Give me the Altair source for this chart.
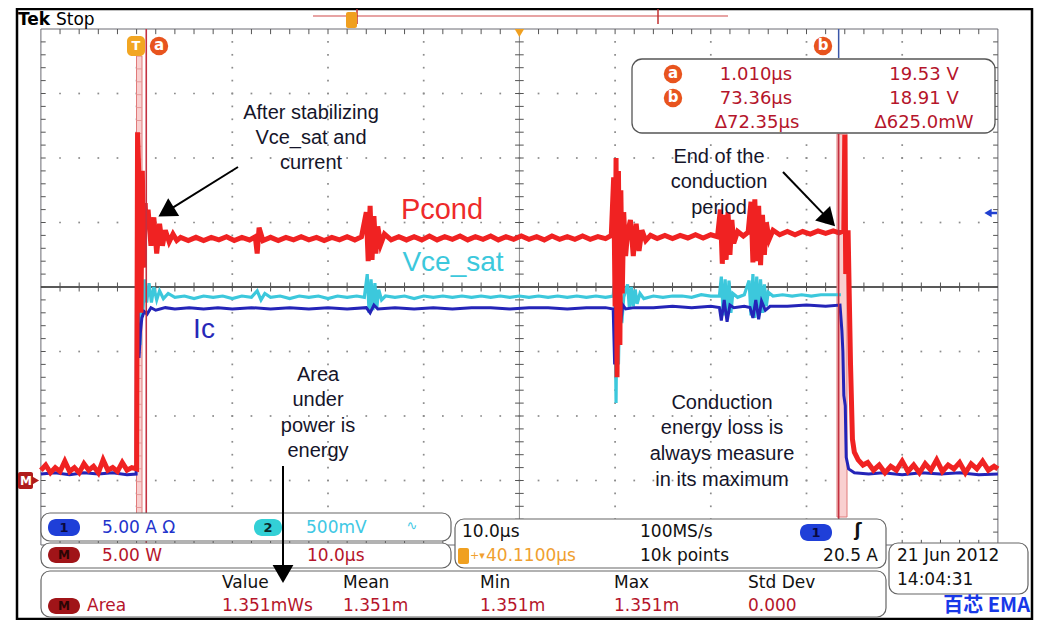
import math
import altair as alt
import pandas as pd

# ---------------- values ----------------
# time in µs relative to the trigger (T), Pcond in W (math M, 5 W/div)
pcond_t = [-10.0, -9.5, -9.0, -8.5, -8.0, -7.5, -7.0, -6.5, -6.0, -5.5, -5.0, -4.5, -4.0, -3.5, -3.0, -2.5, -2.0, -1.5, -1.0, -0.5, 0.0,
           0.1, 0.3, 0.45, 0.6, 0.75, 0.9, 1.0, 1.2, 1.5, 1.8, 2.1, 2.4, 2.7, 3.0, 3.4, 3.8, 4.2,
           4.6, 5.4, 6.2, 7.0, 7.8, 8.6, 9.4, 10.2, 11.0, 11.8, 12.4, 12.6, 12.8, 13.2, 14.0, 14.8, 15.6, 16.4, 17.2, 18.0, 18.8, 19.6, 20.4, 21.2, 22.0, 22.8, 23.5,
           24.0, 24.2, 24.4, 24.6, 24.8, 25.0, 25.2, 25.5, 25.9,
           26.6, 27.4, 28.2, 29.0, 29.8, 30.6, 31.4, 32.2, 33.0, 33.8, 34.6, 35.4, 36.2, 37.0, 37.8, 38.6, 39.4, 40.2, 41.0, 41.8, 42.6, 43.4, 44.2, 45.0, 45.8, 46.6, 47.4, 48.2, 49.0, 49.6,
           49.85, 50.0, 50.1, 50.2, 50.35, 50.5, 50.6, 50.75, 50.9, 51.1, 51.3,
           51.6, 51.9, 52.2, 52.5, 52.8, 53.2, 53.7,
           54.4, 55.2, 56.0, 56.8, 57.6, 58.4, 59.2, 60.0, 60.7,
           61.0, 61.2, 61.4, 61.6, 61.8, 62.0, 62.2, 62.4, 62.8, 63.4, 63.9,
           64.2, 64.4, 64.6, 64.8, 65.0, 65.2, 65.4, 65.6, 65.8, 66.1, 66.5,
           67.2, 68.0, 68.8, 69.6, 70.4, 71.2, 72.0, 72.8, 73.4, 73.9,
           74.0, 74.1, 74.2, 74.35, 74.45, 74.6, 74.8, 75.0, 75.4, 75.9, 76.4,
           77.0, 77.6, 78.2, 78.8, 79.4, 80.0, 80.6, 81.2, 81.8, 82.4, 83.0, 83.6, 84.2, 84.8, 85.4, 86.0, 86.6, 87.2, 87.8, 88.4, 89.0, 89.6, 90.0]
pcond_w = [0.8, 1.2, 0.6, 1.0, 0.7, 1.5, 0.7, 1.0, 0.6, 1.3, 0.8, 1.1, 0.6, 1.6, 0.8, 1.0, 0.7, 1.4, 0.8, 1.0, 0.9,
           27.0, 22.0, 13.0, 24.0, 16.5, 21.5, 19.5, 21.0, 18.2, 20.4, 17.6, 19.9, 18.2, 19.4, 18.5, 19.1, 18.6,
           18.85, 18.6, 18.85, 18.6, 18.85, 18.65, 18.9, 18.6, 18.85, 18.65, 18.9, 17.6, 19.6, 18.6, 18.85, 18.6, 18.85, 18.65, 18.9, 18.65, 18.85, 18.6, 18.85, 18.65, 18.9, 18.65, 18.9,
           20.8, 17.0, 21.3, 17.1, 20.5, 17.6, 19.7, 18.3, 19.1,
           18.65, 18.9, 18.65, 18.9, 18.65, 18.95, 18.65, 18.9, 18.7, 18.95, 18.65, 18.9, 18.7, 18.95, 18.65, 18.9, 18.7, 18.95, 18.7, 18.9, 18.65, 18.95, 18.7, 18.9, 18.7, 18.95, 18.7, 18.9, 18.75, 19.0,
           23.5, 13.5, 25.0, 8.0, 24.0, 10.5, 22.5, 14.5, 20.8, 17.4, 19.2,
           20.2, 17.4, 19.9, 17.8, 19.4, 18.6, 19.0,
           18.75, 19.0, 18.75, 19.0, 18.8, 19.05, 18.8, 19.05, 18.9,
           21.0, 16.8, 20.6, 17.1, 20.8, 17.5, 20.2, 18.4, 19.3, 18.95, 19.25,
           21.6, 16.9, 21.8, 17.0, 21.3, 16.7, 20.6, 17.5, 20.0, 18.7, 19.4,
           19.05, 19.3, 19.05, 19.3, 19.1, 19.35, 19.15, 19.35, 19.2, 19.35,
           26.8, 16.0, 19.2, 19.2, 15.0, 9.0, 3.2, 2.2, 1.6, 1.2, 1.4,
           0.8, 1.2, 0.6, 1.1, 0.8, 1.5, 0.7, 1.2, 0.6, 1.3, 0.8, 1.6, 0.7, 1.2, 0.9, 1.4, 0.6, 1.3, 0.9, 1.5, 0.8, 1.1, 0.9]

# Ic in A (channel 1, 5 A/div)
ic_t = [-10.0, -8.5, -7.0, -5.5, -4.0, -2.5, -1.0, -0.05,
        0.0, 0.12, 0.25, 0.4, 0.55, 0.8, 1.1, 1.5, 2.0, 3.0, 4.0, 5.5, 7.0, 8.5, 10.0, 12.0, 14.0, 16.0, 18.0, 20.0, 22.0, 24.0, 24.4, 24.8, 25.2,
        27.0, 29.0, 31.0, 33.0, 35.0, 37.0, 39.0, 41.0, 43.0, 45.0, 47.0, 49.0, 49.8,
        49.95, 50.1, 50.25, 50.4, 50.6, 50.8, 51.1, 52.0, 54.0, 56.0, 58.0, 60.0, 60.9,
        61.1, 61.4, 61.7, 62.0, 62.4, 63.5, 64.1, 64.4, 64.7, 65.0, 65.3, 65.7, 66.2, 68.0, 70.0, 72.0, 73.5,
        73.7, 73.8, 73.9, 74.05, 74.15, 74.4, 75.0, 76.5, 78.0, 80.0, 82.0, 84.0, 86.0, 88.0, 90.0]
ic_a = [0.5, 0.6, 0.45, 0.6, 0.5, 0.6, 0.45, 0.5,
        20.0, 14.0, 9.5, 11.5, 12.6, 13.1, 12.9, 13.4, 13.2, 13.4, 13.3, 13.4, 13.3, 13.4, 13.3, 13.4, 13.3, 13.4, 13.3, 13.4, 13.3, 13.4, 13.0, 13.6, 13.3,
        13.4, 13.3, 13.4, 13.3, 13.4, 13.4, 13.3, 13.4, 13.4, 13.3, 13.4, 13.4, 13.3,
        9.0, 15.6, 10.2, 14.3, 12.3, 13.6, 13.3, 13.4, 13.4, 13.5, 13.4, 13.5, 13.4,
        12.4, 14.0, 12.3, 13.6, 13.4, 13.5, 13.4, 12.6, 14.0, 12.5, 13.9, 13.2, 13.5, 13.5, 13.6, 13.5, 13.6,
        11.6, 10.0, 6.6, 5.8, 1.8, 0.9, 0.6, 0.5, 0.6, 0.45, 0.6, 0.5, 0.6, 0.45, 0.5]

# Vce_sat in V (channel 2, 500 mV/div)
vce_t = [0.2, 0.35, 0.5, 0.65, 0.85, 1.05, 1.3, 1.55, 1.8, 2.1, 2.4, 2.8, 3.3, 4.0, 5.0, 6.0, 7.0, 8.0, 9.0, 10.0, 11.0, 12.0, 12.6, 13.0, 13.4,
         14.0, 15.0, 16.0, 17.0, 18.0, 19.0, 20.0, 21.0, 22.0, 23.0, 23.8,
         24.1, 24.3, 24.5, 24.7, 24.9, 25.1, 25.3, 25.6, 26.0, 27.0, 28.0, 29.0, 30.0, 31.0, 32.0, 33.0, 34.0, 35.0, 36.0, 37.0, 38.0, 39.0,
         40.0, 41.0, 42.0, 43.0, 44.0, 45.0, 46.0, 47.0, 48.0, 49.0, 49.8,
         49.95, 50.1, 50.2, 50.35, 50.5, 50.7, 50.9, 51.3, 51.5, 51.7, 51.9, 52.1, 52.3, 52.6, 53.0, 54.0, 55.0, 56.0, 57.0, 58.0, 59.0, 60.0, 60.9,
         61.1, 61.3, 61.5, 61.7, 61.9, 62.1, 62.3, 62.8, 63.5, 64.0, 64.2, 64.4, 64.6, 64.8, 65.0, 65.2, 65.4, 65.6, 65.8, 66.0, 66.5,
         67.5, 68.5, 69.5, 70.5, 71.5, 72.5, 73.6]
vce_v = [1.50, 1.05, 1.55, 1.30, 1.56, 1.38, 1.53, 1.38, 1.50, 1.40, 1.47, 1.41, 1.45, 1.42, 1.43, 1.41, 1.43, 1.42, 1.43, 1.41, 1.43, 1.42, 1.47, 1.40, 1.45,
         1.42, 1.43, 1.41, 1.43, 1.42, 1.43, 1.41, 1.43, 1.42, 1.43, 1.42,
         1.60, 1.30, 1.56, 1.32, 1.53, 1.34, 1.48, 1.40, 1.43, 1.42, 1.43, 1.41, 1.43, 1.42, 1.43, 1.42, 1.43, 1.42, 1.43, 1.42, 1.43, 1.42,
         1.43, 1.42, 1.43, 1.42, 1.43, 1.42, 1.43, 1.42, 1.43, 1.42, 1.43,
         1.56, 0.60, 1.50, 0.90, 1.46, 1.22, 1.42, 1.52, 1.33, 1.50, 1.35, 1.48, 1.37, 1.45, 1.41, 1.43, 1.42, 1.43, 1.43, 1.42, 1.44, 1.43, 1.43,
         1.58, 1.28, 1.56, 1.27, 1.55, 1.30, 1.45, 1.42, 1.44, 1.55, 1.28, 1.60, 1.26, 1.58, 1.28, 1.56, 1.30, 1.52, 1.35, 1.46, 1.43,
         1.44, 1.43, 1.44, 1.43, 1.44, 1.44, 1.44]

cursor_times = ["1.010µs", "73.36µs", "Δ72.35µs"]
cursor_values = ["19.53 V", "18.91 V", "Δ625.0mW"]
cursor_a_us, cursor_b_us = 1.010, 73.36
meas_headers = ["Value", "Mean", "Min", "Max", "Std Dev"]
meas_values = ["1.351mWs", "1.351m", "1.351m", "1.351m", "0.000"]

# channel settings: units per division, ground level in divisions
PCOND_PER_DIV, IC_PER_DIV, VCE_PER_DIV, GND_DIV = 5.0, 5.0, 0.5, -3.0

# ---------------- geometry ----------------
W, H = 1030, 612
PX_T0, PX_PER_US, PY_C, PY_PER_DIV = 136.6, 9.57, 287.0, 64.5


def X(px):
    return (px - PX_T0) / PX_PER_US


def Y(py):
    return (PY_C - py) / PY_PER_DIV


XS = alt.Scale(domain=[X(8), X(8 + W)], nice=False, zero=False)
YS = alt.Scale(domain=[Y(8 + H), Y(8)], nice=False, zero=False)
ENC_X = alt.X("x:Q", scale=XS, axis=None)
ENC_Y = alt.Y("y:Q", scale=YS, axis=None)

layers = []


def rules_d(rows, color, width=1.0, dash=None, opacity=1.0):
    df = pd.DataFrame(rows, columns=["x", "y", "x2", "y2"])
    kw = dict(color=color, strokeWidth=width, opacity=opacity)
    if dash:
        kw["strokeDash"] = dash
    layers.append(alt.Chart(df).mark_rule(**kw).encode(x=ENC_X, y=ENC_Y, x2="x2:Q", y2="y2:Q"))


def rules_p(rows, color, width=1.0, dash=None, opacity=1.0):
    rules_d([(X(a), Y(b), X(c), Y(d)) for a, b, c, d in rows], color, width, dash, opacity)


def rect_p(x1, y1, x2, y2, fill=None, stroke=None, sw=1.0, radius=0, opacity=1.0):
    df = pd.DataFrame({"x": [X(x1)], "y": [Y(y1)], "x2": [X(x2)], "y2": [Y(y2)]})
    kw = dict(cornerRadius=radius, opacity=opacity)
    if fill:
        kw["fill"] = fill
    else:
        kw["fillOpacity"] = 0
    if stroke:
        kw["stroke"] = stroke
        kw["strokeWidth"] = sw
    layers.append(alt.Chart(df).mark_rect(**kw).encode(x=ENC_X, y=ENC_Y, x2="x2:Q", y2="y2:Q"))


def text_p(rows, size, color, font="DejaVu Sans", weight="normal", align="left"):
    df = pd.DataFrame([(s, X(a), Y(b)) for s, a, b in rows], columns=["s", "x", "y"])
    layers.append(alt.Chart(df).mark_text(align=align, baseline="middle", font=font, fontSize=size,
                                          fontWeight=weight, color=color)
                  .encode(x=ENC_X, y=ENC_Y, text="s:N"))


def pts_p(rows, shape, size, color, angle=0):
    df = pd.DataFrame([(X(a), Y(b)) for a, b in rows], columns=["x", "y"])
    layers.append(alt.Chart(df).mark_point(shape=shape, filled=True, size=size, color=color,
                                           opacity=1, angle=angle, strokeWidth=0)
                  .encode(x=ENC_X, y=ENC_Y))


def arrow_p(x0, y0, x1, y1, color="#000000", head=430):
    dx, dy = x1 - x0, y1 - y0
    ln = math.hypot(dx, dy)
    ux, uy = dx / ln, dy / ln
    r = math.sqrt(head) / 2
    h = math.sqrt(3) * r / 2
    cx, cy = x1 - ux * h, y1 - uy * h
    rules_p([(x0, y0, cx - ux * h * 0.6, cy - uy * h * 0.6)], color, 2.0)
    ang = math.degrees(math.atan2(dx, -dy)) % 360
    pts_p([(cx, cy)], "triangle", head, color, angle=ang)


# ---------------- graticule (data units: µs, divisions) ----------------
T0, T1, D0, D1 = -10.0, 90.0, -4.0, 4.0
dots = []
for i in range(1, 10):
    if i == 5:
        continue
    t = T0 + 10 * i
    for j in range(1, 40):
        dots.append((t, D0 + 0.2 * j))
for k in range(-3, 4):
    if k == 0:
        continue
    for m in range(1, 50):
        dots.append((T0 + 2 * m, float(k)))
layers.append(alt.Chart(pd.DataFrame(dots, columns=["x", "y"]))
              .mark_square(size=3, color="#8c8c8c", opacity=1).encode(x=ENC_X, y=ENC_Y))

rules_d([(T0, D0, T1, D0), (T0, D1, T1, D1), (T0, D0, T0, D1), (T1, D0, T1, D1)], "#6a6a72", 1.0)
rules_d([(40.0, D0, 40.0, D1)], "#8a8a8a", 1.0)
rules_d([(T0, 0.0, T1, 0.0)], "#222222", 1.3)
tk = []
for m in range(1, 50):
    t = T0 + 2 * m
    tk.append((t, -0.07, t, 0.07))
    tk.append((t, D1, t, D1 - 0.08))
    tk.append((t, D0, t, D0 + 0.08))
for j in range(1, 40):
    d = D0 + 0.2 * j
    tk.append((40 - 0.45, d, 40 + 0.45, d))
    tk.append((T0, d, T0 + 0.5, d))
    tk.append((T1, d, T1 - 0.5, d))
rules_d(tk, "#555555", 1.0)

# ---------------- cursor bands (under the traces) ----------------
rect_p(136.5, 56, 142, 517, fill="#f9d0d0", stroke="#e07a7a", sw=1.0)
rules_p([(136.5, 56 + 12.9 * k, 142, 56 + 12.9 * k) for k in range(1, 36)], "#e59a9a", 1.0)
rect_p(837, 134, 847, 517, fill="#f9d0d0", stroke="#e07a7a", sw=1.0)

# ---------------- traces ----------------
vce_df = pd.DataFrame({"x": vce_t, "y": [GND_DIV + v / VCE_PER_DIV for v in vce_v]})
ic_df = pd.DataFrame({"x": ic_t, "y": [GND_DIV + v / IC_PER_DIV for v in ic_a]})
pc_df = pd.DataFrame({"x": pcond_t, "y": [GND_DIV + v / PCOND_PER_DIV for v in pcond_w]})
layers.append(alt.Chart(vce_df).mark_line(color="#3cc8dc", strokeWidth=3.2).encode(x=ENC_X, y=ENC_Y))
layers.append(alt.Chart(ic_df).mark_line(color="#2424b8", strokeWidth=3.0).encode(x=ENC_X, y=ENC_Y))
layers.append(alt.Chart(pc_df).mark_line(color="#f02222", strokeWidth=5.0).encode(x=ENC_X, y=ENC_Y))

# ---------------- cursor lines ----------------
rules_d([(cursor_a_us, D0 - 0.35, cursor_a_us, D1)], "#c43040", 1.6)
rules_d([(cursor_b_us, D0 - 0.35, cursor_b_us, Y(134))], "#c43040", 1.6)
rules_d([(cursor_b_us, D1, cursor_b_us, Y(58))], "#3a56a8", 1.5)

# ---------------- frame and header ----------------
rect_p(17, 9, 1032, 619, stroke="#000000", sw=2.5)
text_p([("Tek", 18, 20)], 17, "#000000", weight="bold")
text_p([("Stop", 56, 20)], 17, "#000000")
rules_p([(313, 16, 728, 16)], "#d04848", 1.2)
rules_p([(357, 9, 357, 24), (658, 9, 658, 24)], "#c03030", 1.5)
rect_p(346, 12, 357, 28, fill="#f0a020", radius=2)
pts_p([(519.4, 33)], "triangle-down", 90, "#f0a020")

# markers T, a, b
rect_p(127, 36, 145, 56, fill="#f2a622", radius=5)
text_p([("T", 136, 46)], 13, "#ffffff", weight="bold", align="center")
pts_p([(159, 46), (823, 46)], "circle", 340, "#e8541e")
text_p([("a", 159, 45), ("b", 823, 45)], 15, "#ffffff", weight="bold", align="center")

# cursor readout box
rect_p(632, 59, 995, 133, fill="#ffffff", stroke="#555555", sw=1.3, radius=10)
pts_p([(673, 74), (673, 98)], "circle", 340, "#e8541e")
text_p([("a", 673, 73), ("b", 673, 97)], 15, "#ffffff", weight="bold", align="center")
text_p([(cursor_times[0], 756, 75), (cursor_times[1], 756, 99), (cursor_times[2], 757, 123)], 18, "#b5152b", align="center")
text_p([(cursor_values[0], 924, 75), (cursor_values[1], 924, 99), (cursor_values[2], 924, 123)], 18, "#b5152b", align="center")

# side markers
pts_p([(988, 213)], "triangle-left", 70, "#2040d0")
rules_p([(990, 213, 997, 213)], "#2040d0", 2.5)
rect_p(18, 472, 33, 489, fill="#b01c1c", radius=2)
pts_p([(35.5, 480.5)], "triangle-right", 70, "#b01c1c")
text_p([("M", 26, 481)], 12, "#ffffff", weight="bold", align="center")

# ---------------- annotations ----------------
ANN = "#15152a"
text_p([("After stabilizing", 311, 113), ("Vce_sat and", 311, 138), ("current", 311, 163)],
       20, ANN, font="Liberation Sans", align="center")
text_p([("End of the", 719, 157), ("conduction", 719, 182), ("period", 719, 208)],
       20, ANN, font="Liberation Sans", align="center")
text_p([("Area", 318, 375), ("under", 318, 400), ("power is", 318, 426), ("energy", 318, 451)],
       20, ANN, font="Liberation Sans", align="center")
text_p([("Conduction", 722, 403), ("energy loss is", 722, 428), ("always measure", 722, 454), ("in its maximum", 722, 480)],
       20, ANN, font="Liberation Sans", align="center")
text_p([("Pcond", 442, 210)], 29, "#ee2a2a", font="Liberation Sans", align="center")
text_p([("Vce_sat", 453, 263)], 28, "#3cc8dc", font="Liberation Sans", align="center")
text_p([("Ic", 204, 330)], 28, "#2828b8", font="Liberation Sans", align="center")

# ---------------- bottom readouts ----------------
BOX = "#666666"
DR = "#b5152b"
rect_p(41, 513, 451, 541, fill="#ffffff", stroke=BOX, sw=1.2, radius=9)
rect_p(41, 543, 451, 568, fill="#ffffff", stroke=BOX, sw=1.2, radius=9)
rect_p(455, 519, 886, 568, fill="#ffffff", stroke=BOX, sw=1.2, radius=9)
rect_p(41, 571, 886, 617, fill="#ffffff", stroke=BOX, sw=1.2, radius=9)
rect_p(889, 543, 1028, 594, fill="#ffffff", stroke=BOX, sw=1.2, radius=9)

arrow_p(238, 167, 161, 215)
arrow_p(783, 172, 833, 224)
arrow_p(283, 466, 283, 580)

rect_p(48, 519, 80, 536, fill="#1f3fd8", radius=8)
text_p([("1", 64, 528)], 13, "#0a0a40", weight="bold", align="center")
text_p([("5.00 A Ω", 102, 528)], 17, "#2233cc")
rect_p(254, 519, 282, 536, fill="#33d0d6", radius=8)
text_p([("2", 268, 528)], 13, "#0a2a2a", weight="bold", align="center")
text_p([("500mV", 306, 528)], 17, "#40c8e4")
text_p([("∿", 412, 526)], 13, "#40c8e4", align="center")

rect_p(48, 547, 80, 563, fill="#a01418", radius=8)
text_p([("M", 64, 555)], 12, "#2a0505", weight="bold", align="center")
text_p([("5.00 W", 102, 556)], 17, DR)
text_p([("10.0µs", 307, 556)], 17, DR)

text_p([("10.0µs", 462, 532), ("100MS/s", 640, 532)], 17, "#111111")
rect_p(800, 524, 832, 541, fill="#1f3fd8", radius=8)
text_p([("1", 816, 532.5)], 13, "#0a0a40", weight="bold", align="center")
text_p([("ʃ", 858, 531)], 17, "#111111", weight="bold", align="center")
rect_p(458, 548, 469, 564, fill="#f0a020", radius=2)
text_p([("+▾", 470, 556)], 11, "#f0a030")
text_p([("40.1100µs", 486, 556)], 17, "#f0a030")
text_p([("10k points", 640, 556)], 17, "#111111")
text_p([("20.5 A", 878, 556)], 17, "#111111", align="right")

hx = [222, 343, 480, 614, 748]
text_p([(h, x, 583) for h, x in zip(meas_headers, hx)], 17, "#111111")
rect_p(48, 598, 80, 614, fill="#a01418", radius=8)
text_p([("M", 64, 606)], 12, "#2a0505", weight="bold", align="center")
text_p([("Area", 87, 606)], 17, DR)
text_p([(v, x, 606) for v, x in zip(meas_values, hx)], 17, DR)

text_p([("21 Jun 2012", 897, 556), ("14:04:31", 897, 580)], 17, "#111111")
text_p([("百芯 EMA", 1030, 606)], 20, "#1838e8", font="Noto Sans CJK SC", weight="bold", align="right")

chart = alt.layer(*layers).properties(
    width=W, height=H, padding=0, autosize=alt.AutoSizeParams(type="none")
).configure_view(stroke=None)

chart.save("out.html", embed_options={"renderer": "svg", "actions": False})
